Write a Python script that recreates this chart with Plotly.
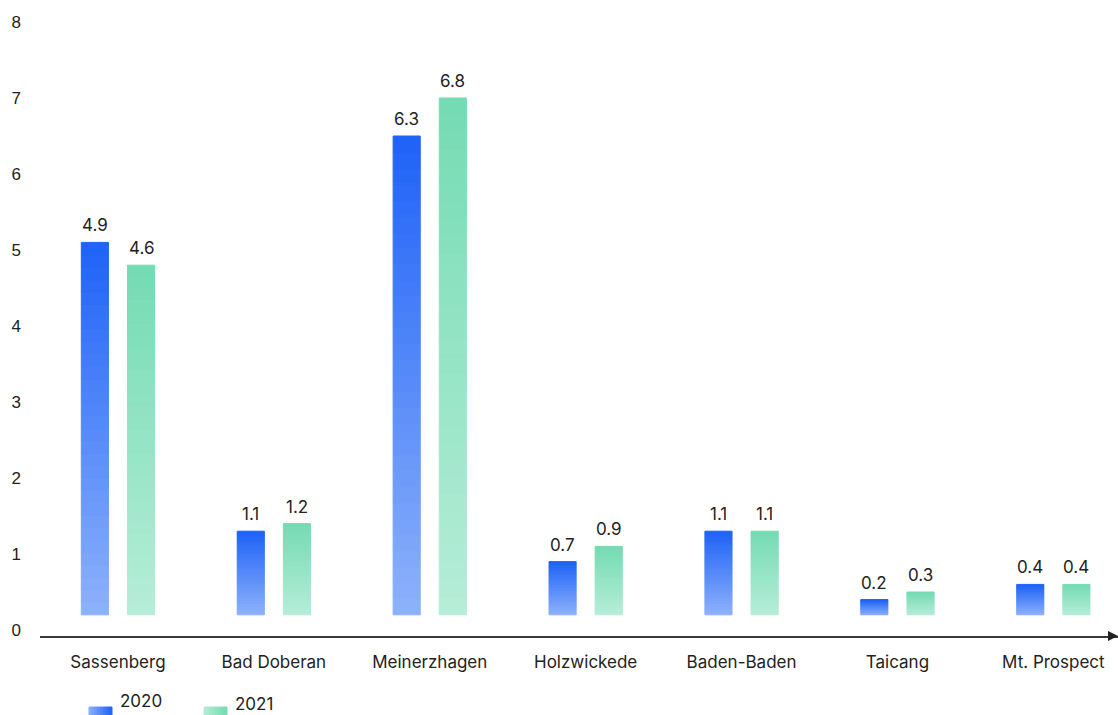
import plotly.graph_objects as go

# ---- data ---------------------------------------------------------------
cities = ["Sassenberg", "Bad Doberan", "Meinerzhagen", "Holzwickede",
          "Baden-Baden", "Taicang", "Mt. Prospect"]
values_2020 = [4.9, 1.1, 6.3, 0.7, 1.1, 0.2, 0.4]
values_2021 = [4.6, 1.2, 6.8, 0.9, 1.1, 0.3, 0.4]
y_ticks = [0, 1, 2, 3, 4, 5, 6, 7, 8]

# ---- layout constants ---------------------------------------------------
W, H = 1118, 715
ML, MB = 40, 79
PLOT_W, PLOT_H = W - ML, H - MB
BASELINE = 0.2          # bars sit slightly above the zero line
BAR_W = 0.174
N_STEPS = 30            # vertical gradient resolution

LABEL_FONT = "Inter, Lato, sans-serif"
TEXT_COLOR = "#222222"

series = [
    # name, values, top colour, bottom colour, offset from category centre
    ("2020", values_2020, (0x1E, 0x62, 0xF7), (0x8E, 0xB2, 0xFB), -0.235),
    ("2021", values_2021, (0x74, 0xDB, 0xB3), (0xB6, 0xED, 0xD8), 0.061),
]


def mix(c_bottom, c_top, t):
    r, g, b = (round(a + (b_ - a) * t) for a, b_ in zip(c_bottom, c_top))
    return f"rgb({r},{g},{b})"


def px_x(px):
    return (px - ML) / PLOT_W


def px_y(py):
    return (H - MB - py) / PLOT_H


x_idx = list(range(len(cities)))
fig = go.Figure()
annotations = []

for name, vals, top, bottom, off in series:
    # each bar is built from thin stacked slices to give a vertical gradient;
    # a same-coloured outline closes the hairline gaps between slices
    for k in range(N_STEPS):
        col = mix(bottom, top, (k + 0.5) / N_STEPS)
        fig.add_trace(go.Bar(
            x=x_idx,
            y=[v / N_STEPS for v in vals],
            base=[BASELINE + v * k / N_STEPS for v in vals],
            offset=off,
            width=BAR_W,
            marker=dict(color=col, line=dict(width=1, color=col)),
            showlegend=False,
            hoverinfo="skip",
        ))
    for i, v in enumerate(vals):
        annotations.append(dict(
            x=i + off + BAR_W / 2, y=BASELINE + v, xref="x", yref="y",
            text=f"{v:.1f}", showarrow=False, yanchor="bottom", yshift=5,
            font=dict(family=LABEL_FONT, size=17, color=TEXT_COLOR),
        ))

# ---- hand-drawn legend (gradient swatches) ------------------------------
shapes = []
legend_items = [("2020", series[0], 89, 118, 701), ("2021", series[1], 204, 233, 704)]
for label, (_, _, top, bottom, _), sx, tx, ty in legend_items:
    n = 8
    for k in range(n):
        x0 = sx + 23 * k / n
        x1 = sx + 23 * (k + 1) / n
        col = mix(bottom, top, (k + 0.5) / n)
        shapes.append(dict(type="rect", xref="paper", yref="paper",
                           x0=px_x(x0), x1=px_x(x1),
                           y0=px_y(707), y1=px_y(730),
                           fillcolor=col,
                           line=dict(width=1, color=col), layer="above"))
    annotations.append(dict(
        x=px_x(tx), y=px_y(ty), xref="paper", yref="paper", text=label,
        showarrow=False, xanchor="left", yanchor="middle",
        font=dict(family=LABEL_FONT, size=17, color=TEXT_COLOR),
    ))

# arrow head at the end of the x axis
shapes.append(dict(
    type="path", xref="paper", yref="paper",
    path=f"M {px_x(1118)},{px_y(636)} L {px_x(1108)},{px_y(631)} "
         f"L {px_x(1108)},{px_y(641)} Z",
    fillcolor="#222222", line=dict(width=0),
))

fig.update_layout(
    width=W, height=H,
    margin=dict(l=ML, r=0, t=0, b=MB),
    paper_bgcolor="white", plot_bgcolor="white",
    barmode="overlay",
    showlegend=False,
    annotations=annotations,
    shapes=shapes,
    xaxis=dict(
        range=[-0.5, -0.5 + PLOT_W / 155.9],
        tickmode="array", tickvals=x_idx, ticktext=cities,
        showgrid=False, zeroline=False,
        showline=True, linecolor="#3a3a3a", linewidth=1.6,
        ticks="", ticklabelstandoff=10,
        tickfont=dict(family=LABEL_FONT, size=17, color=TEXT_COLOR),
    ),
    yaxis=dict(
        range=[-6 / 76, 8 + 22 / 76],
        tickmode="array", tickvals=y_ticks,
        showgrid=False, zeroline=False, showline=False,
        ticks="", ticklabelstandoff=18,
        tickfont=dict(family="Liberation Sans, Arial, sans-serif", size=17,
                      color=TEXT_COLOR),
    ),
)

fig.write_html("out.html")
